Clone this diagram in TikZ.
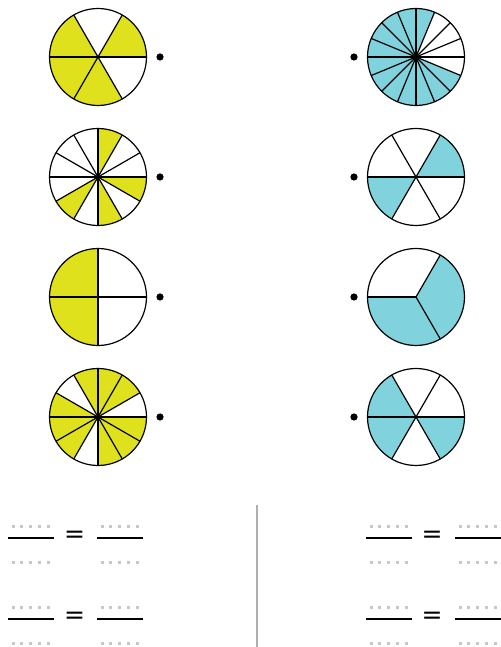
\documentclass[tikz,border=0pt]{standalone}
\usepackage{fontspec}
\setmainfont{DejaVu Sans}
\begin{document}
\begin{tikzpicture}[x=1pt,y=1pt,line width=1.2pt,
  fracline/.style={line width=1.6pt},
  blankdots/.style={draw=dotgrey,line width=3pt,dash pattern=on 3pt off 5.75pt},
  eqsign/.style={inner sep=0pt,font=\fontsize{25}{25}\selectfont}]
\definecolor{pieyellow}{RGB}{222,225,28}
\definecolor{piecyan}{RGB}{128,211,220}
\definecolor{dotgrey}{RGB}{200,200,200}
\definecolor{rulegrey}{RGB}{175,175,175}
\def\rad{48.5}
\useasboundingbox (0,0) rectangle (500,647);

% pies: x / y / parts / first angle / colour / shaded parts / dot side
\foreach \cx/\cy/\n/\off/\col/\parts/\dx in {
98/590/6/0/pieyellow/{0,2,3,4}/62,
98/470/12/0/pieyellow/{2,7,9,11}/62,
98/350/4/0/pieyellow/{1,2}/62,
98/230/12/0/pieyellow/{1,2,3,5,6,7,9,10,11}/62,
416/590/16/0/piecyan/{3,4,5,6,7,8,9,10,11,12,13,14}/-62,
416/470/6/0/piecyan/{0,3}/-62,
416/350/3/60/piecyan/{1,2}/-62,
416/230/6/0/piecyan/{2,3,5}/-62
}{
  \pgfmathsetmacro\w{360/\n}
  \foreach \k in \parts
    \fill[\col] (\cx,\cy) -- ++(\off+\k*\w:\rad)
      arc[start angle=\off+\k*\w, delta angle=\w, radius=\rad] -- cycle;
  \foreach \k in {1,...,\n}
    \draw (\cx,\cy) -- ++(\off+\k*\w:\rad);
  \draw (\cx,\cy) circle (\rad);
  \fill (\cx+\dx,\cy) circle (3.6);
}

% blanks
\foreach \fx/\fy in {8/109, 97/109, 8/28, 97/28, 366/109, 455/109, 366/28, 455/28}{
  \draw[fracline] (\fx,\fy) -- ++(46,0);
  \draw[blankdots] (\fx+3.5,\fy+11) -- ++(38,0);
  \draw[blankdots] (\fx+3.5,\fy-25) -- ++(38,0);
}
\node[eqsign] (eqA) at (74.5,110) {=};
\node[eqsign] (eqB) at (74.5,29) {=};
\node[eqsign] (eqC) at (432,110) {=};
\node[eqsign] (eqD) at (432,29) {=};

\draw[rulegrey,line width=2pt] (257,142) -- (257,0);
\end{tikzpicture}
\end{document}
